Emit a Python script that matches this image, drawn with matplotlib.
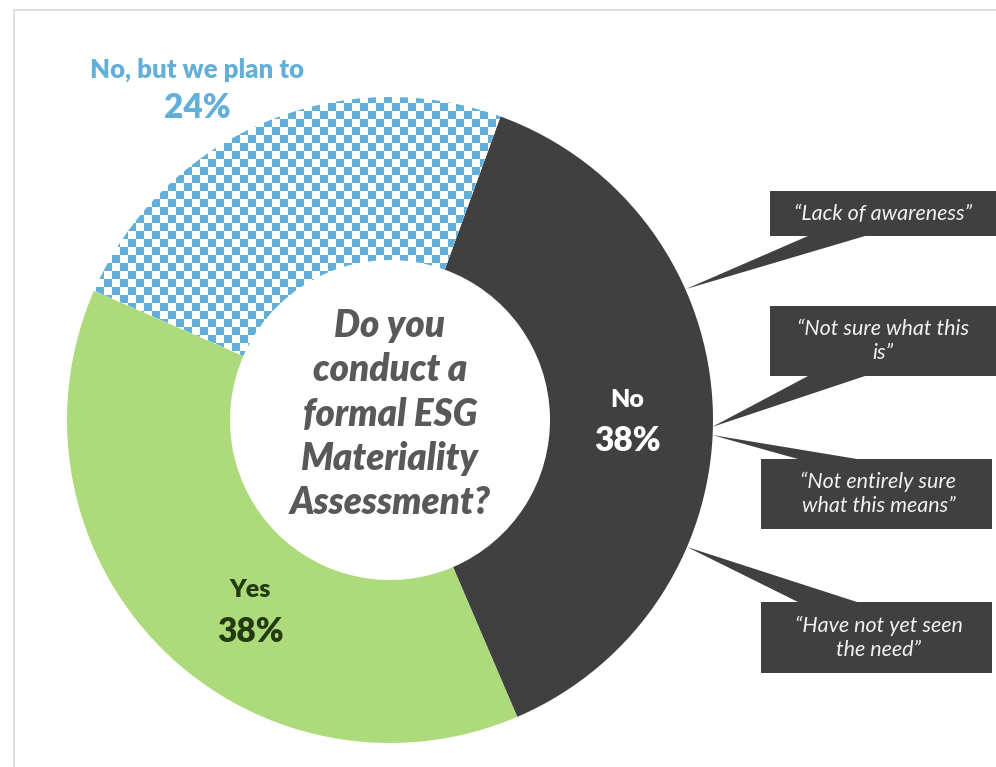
import numpy as np
import matplotlib
matplotlib.use('Agg')
import matplotlib.pyplot as plt
from matplotlib.colors import ListedColormap
from matplotlib.patches import Polygon

# survey answers
labels = ['No', 'Yes', 'No, but we plan to']
shares = [38, 38, 24]
colors = ['#404040', '#ADDB7B', '#62B0DA']
label_colors = ['white', '#24390F', '#62B0DA']
question = 'Do you\nconduct a\nformal ESG\nMateriality\nAssessment?'
quotes = ['\u201cLack of awareness\u201d',
          '\u201cNot sure what this\nis\u201d',
          '\u201cNot entirely sure\nwhat this means\u201d',
          '\u201cHave not yet seen\nthe need\u201d']

W, H = 996, 767
plt.rcParams['font.family'] = ['Lato', 'DejaVu Sans']

fig = plt.figure(figsize=(W / 100, H / 100), dpi=100)
ax = fig.add_axes([0, 0, 1, 1])

def py(y):
    # pixel row (from top) -> data y
    return H - y

cx, cy = 390, py(420)
R, ring = 323, 163

wedges, _ = ax.pie(shares, colors=colors, radius=R, center=(cx, cy),
                   startangle=70, counterclock=False,
                   wedgeprops=dict(width=ring, linewidth=0))

# checkerboard fill for the "plan to" slice
cell = 8
nr, nc = H // cell + 1, W // cell + 1
checker = np.indices((nr, nc)).sum(axis=0) % 2
wedges[2].set_facecolor('white')
img = ax.imshow(checker, cmap=ListedColormap(['white', colors[2]]),
                extent=[0, nc * cell, 0, nr * cell], origin='lower',
                interpolation='nearest', zorder=2)
img.set_clip_path(wedges[2])

# centre question
ax.text(cx, py(414), question, ha='center', va='center', multialignment='center',
        fontsize=26.5, fontweight='heavy', fontstyle='italic', color='#595959',
        linespacing=1.32, zorder=5)

# slice labels
label_pos = [(627, 400, 441), (250, 590, 632), (197, 70, 108)]
name_size = [18, 18, 18.5]
for lab, val, col, (x, y1, y2), fs in zip(labels, shares, label_colors, label_pos, name_size):
    ax.text(x, py(y1), lab, ha='center', va='center', fontsize=fs,
            fontweight='heavy', color=col, zorder=5)
    ax.text(x, py(y2), '%d%%' % val, ha='center', va='center', fontsize=24,
            fontweight='heavy', color=col, zorder=5)

# callout boxes: (left, top, bottom, pointer x0, pointer x1, tip x, tip y)
callouts = [
    (770, 191, 236, 808, 865, 686, 289, 'bottom'),
    (770, 306, 376, 808, 865, 712, 427, 'bottom'),
    (761, 459, 529, 798, 857, 712, 435, 'top'),
    (761, 602, 673, 798, 857, 687, 547, 'top'),
]
box_col = '#404040'
for (x0, t, b, p0, p1, tx, ty, side), q in zip(callouts, quotes):
    x1 = W + 5 if side == 'bottom' else 992
    edge = b if side == 'bottom' else t
    pts = [(x0, t), (x1, t), (x1, b), (x0, b)]
    ax.add_patch(Polygon([(x, py(y)) for x, y in pts], closed=True,
                         facecolor=box_col, edgecolor='none', zorder=4))
    tri = [(p0, edge), (p1, edge), (tx, ty)]
    ax.add_patch(Polygon([(x, py(y)) for x, y in tri], closed=True,
                         facecolor=box_col, edgecolor='none', zorder=4))
    ax.text((x0 + min(x1, 992)) / 2 + 2, py((t + b) / 2), q, ha='center', va='center',
            fontsize=15.5, fontstyle='italic', color='#F2F2F2', linespacing=1.25, zorder=5)

# outer chart frame
ax.plot([13.5, 13.5, W + 5], [py(H + 5), py(9.5), py(9.5)], color='#D9D9D9', lw=1.2, zorder=1)

ax.set_xlim(0, W)
ax.set_ylim(0, H)
ax.set_aspect('auto')
ax.axis('off')
fig.savefig('out.png', dpi=100, facecolor='white')
